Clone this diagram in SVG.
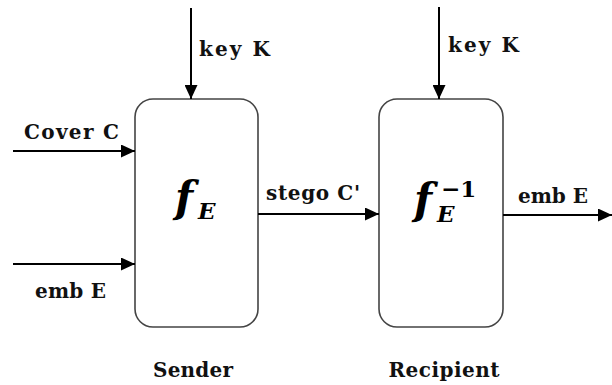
<svg xmlns="http://www.w3.org/2000/svg" width="612" height="385" viewBox="0 0 612 385">
  <style>
    .lbl { font-family: "DejaVu Serif", "Liberation Serif", serif; font-weight: bold; font-size: 20px; fill: #111; }
    .box { fill: #fff; stroke: #444; stroke-width: 1.6; }
    .wire { stroke: #000; stroke-width: 2; fill: none; marker-end: url(#ah); }
    .math { font-family: "DejaVu Serif", "Liberation Serif", serif; font-weight: bold; font-style: italic; fill: #000; }
    .up { font-family: "DejaVu Serif", "Liberation Serif", serif; font-weight: bold; fill: #000; }
  </style>
  <defs>
    <marker id="ah" viewBox="0 0 14 13" refX="14" refY="6.5" markerWidth="14" markerHeight="13" orient="auto" markerUnits="userSpaceOnUse">
      <path d="M0,0 L14,6.5 L0,13 z" fill="#000"/>
    </marker>
  </defs>

  <rect width="612" height="385" fill="#fff"/>

  <!-- Sender block -->
  <g id="sender">
    <rect class="box" x="135" y="99" width="123" height="228" rx="18" ry="18"/>
    <text class="math" x="175" y="212" font-size="42">f</text>
    <text class="math" x="198" y="219" font-size="23">E</text>
    <text class="lbl" x="193" y="377" text-anchor="middle" textLength="80">Sender</text>
  </g>

  <!-- Recipient block -->
  <g id="recipient">
    <rect class="box" x="379" y="99" width="124" height="228" rx="18" ry="18"/>
    <text class="math" x="414" y="214" font-size="42">f</text>
    <text class="math" x="437" y="222" font-size="23">E</text>
    <text class="up" x="441" y="197" font-size="23">−1</text>
    <text class="lbl" x="444" y="377" text-anchor="middle" textLength="111">Recipient</text>
  </g>

  <!-- Connectors -->
  <g id="connectors">
    <path class="wire" d="M191,8 V99"/>
    <path class="wire" d="M439,7 V99"/>
    <path class="wire" d="M13,151 H135"/>
    <path class="wire" d="M13,264 H135"/>
    <path class="wire" d="M258,214 H379"/>
    <path class="wire" d="M503,215 H612"/>
  </g>

  <!-- Connector labels -->
  <g id="labels">
    <text class="lbl" x="199" y="56" textLength="71">key K</text>
    <text class="lbl" x="448" y="52" textLength="71">key K</text>
    <text class="lbl" x="24" y="139" textLength="95">Cover C</text>
    <text class="lbl" x="35" y="298" textLength="71">emb E</text>
    <text class="lbl" x="266" y="200" textLength="94">stego C'</text>
    <text class="lbl" x="518" y="203" textLength="70">emb E</text>
  </g>
</svg>
